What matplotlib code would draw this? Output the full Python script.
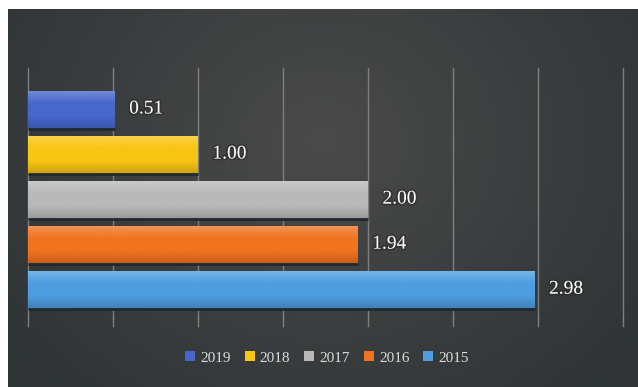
import numpy as np
import matplotlib
matplotlib.use("Agg")
import matplotlib.pyplot as plt
from matplotlib.colors import LinearSegmentedColormap, to_rgb
from matplotlib.patches import Patch
import matplotlib.patheffects as pe

years = ["2019", "2018", "2017", "2016", "2015"]
values = [0.51, 1.00, 2.00, 1.94, 2.98]
colors = ["#4767cc", "#f8c512", "#b9b9b9", "#f0731f", "#4d9de0"]
x_ticks = [0, 0.5, 1.0, 1.5, 2.0, 2.5, 3.0, 3.5]

W, H = 638, 387
fig = plt.figure(figsize=(W / 100, H / 100), dpi=100)
fig.patch.set_facecolor("white")

# dark panel with a soft radial glow
bg = fig.add_axes([8 / W, 0, 1 - 8 / W, 1 - 9 / H])
bg.set_axis_off()
yy, xx = np.mgrid[0:1:200j, 0:1:300j]
r = np.sqrt(((xx - 0.5) / 0.62) ** 2 + ((yy - 0.35) / 0.9) ** 2)
r = np.clip(r, 0, 1)
c_in = np.array(to_rgb("#4a4a4a"))
c_out = np.array(to_rgb("#2f3436"))
img = c_in[None, None, :] * (1 - r[..., None]) + c_out[None, None, :] * r[..., None]
bg.imshow(img, aspect="auto", extent=[0, 1, 0, 1], origin="upper")
bg.set_xlim(0, 1)
bg.set_ylim(0, 1)

# plot area
x0, x1 = 28, 623
y_top, y_bot = 68, 318
ax = fig.add_axes([x0 / W, 1 - y_bot / H, (x1 - x0) / W, (y_bot - y_top) / H])
ax.patch.set_alpha(0)
n = len(values)
y_lo, y_hi = 4.62, -0.93
ax.set_ylim(y_lo, y_hi)

for xv in x_ticks:
    ax.plot([xv, xv], [y_lo, y_hi], color="#8a8a8a", lw=1.0, alpha=0.85,
            zorder=1, clip_on=False)
    # small tick marks under the plot area
    ax.plot([xv, xv], [y_lo, y_lo + 0.18], color="#8a8a8a", lw=1.0,
            alpha=0.85, clip_on=False, zorder=1)

ypos = np.arange(n)
bars = ax.barh(ypos, values, height=0.85, color=colors, zorder=2,
               edgecolor="none")

# vertical shading on each bar: lighter top, darker bottom
for b, col in zip(bars, colors):
    base = np.array(to_rgb(col))
    light = np.clip(base + (1 - base) * 0.25, 0, 1)
    dark = base * 0.82
    cmap = LinearSegmentedColormap.from_list("g", [light, base, base, dark])
    grad = np.linspace(0, 1, 64)[:, None]
    bx, by = b.get_x(), b.get_y()
    bw, bh = b.get_width(), b.get_height()
    im = ax.imshow(grad, cmap=cmap, aspect="auto",
                   extent=[bx, bx + bw, by + bh, by], zorder=3,
                   interpolation="bilinear")
    im.set_clip_path(b)
    ax.plot([bx, bx + bw], [by + bh, by + bh], color="#1e2a30", lw=2.0,
            zorder=4, solid_capstyle="butt")

for yp, v in zip(ypos, values):
    ax.text(v + 0.085, yp - 0.02, f"{v:.2f}", va="center", ha="left",
            color="white", fontsize=14, family="Liberation Serif", zorder=5,
            path_effects=[pe.withStroke(linewidth=2.5, foreground="#2a2a2a",
                                        alpha=0.6)])

ax.set_xticks([])
ax.set_yticks([])
for s in ax.spines.values():
    s.set_visible(False)
ax.set_xlim(0, 3.5)

handles = [Patch(facecolor=c, edgecolor="none") for c in colors]
fig.legend(handles, years, loc="center", bbox_to_anchor=(327 / W, 1 - 358 / H),
           ncol=5, frameon=False, handlelength=0.65, handleheight=0.65,
           handletextpad=0.35, columnspacing=0.9,
           prop={"family": "Liberation Serif", "size": 11},
           labelcolor="#dcdcdc")

fig.savefig("out.png", dpi=100, facecolor=fig.get_facecolor())
